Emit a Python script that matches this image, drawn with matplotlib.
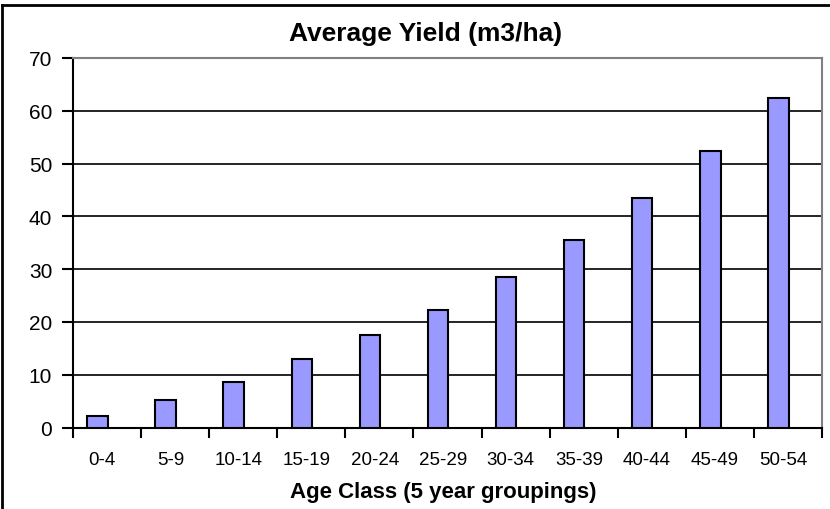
import numpy as np
import matplotlib.pyplot as plt
from matplotlib.lines import Line2D

# age classes and average yield per class
age_classes = ['0-4', '5-9', '10-14', '15-19', '20-24', '25-29',
               '30-34', '35-39', '40-44', '45-49', '50-54']
avg_yield = [2.1, 5.3, 8.7, 12.9, 17.5, 22.3, 28.5, 35.5, 43.5, 52.4, 62.5]
y_ticks = [0, 10, 20, 30, 40, 50, 60, 70]

plt.rcParams['font.family'] = ['Liberation Sans', 'DejaVu Sans']

fig = plt.figure(figsize=(8.3, 5.1), dpi=100)
ax = fig.add_axes([73 / 830, 1 - 428.5 / 510, 749 / 830, 369.5 / 510])

x = np.arange(len(age_classes))
# excel draws the bars a little left of the category centre
ax.bar(x - 0.14, avg_yield, width=0.3, color='#9999ff',
       edgecolor='black', linewidth=1.5, zorder=3)

ax.set_xlim(-0.5, len(age_classes) - 0.5)
ax.set_ylim(0, 70)
ax.set_yticks(y_ticks)
ax.tick_params(axis='y', length=8, width=1.5, labelsize=15, pad=7)

# ticks sit between categories, labels under the centres
ax.set_xticks(np.arange(len(age_classes) + 1) - 0.5)
ax.set_xticklabels([])
ax.set_xticks(x - 0.07, minor=True)
ax.set_xticklabels(age_classes, minor=True)
ax.tick_params(axis='x', which='major', length=7, width=1.5)
ax.tick_params(axis='x', which='minor', length=0, labelsize=13.5, pad=17)

for v in y_ticks[1:-1]:
    ax.axhline(v, color='black', linewidth=1.2, zorder=1)

for side in ['left', 'bottom']:
    ax.spines[side].set_linewidth(1.5)
for side in ['top', 'right']:
    ax.spines[side].set_color('#808080')
    ax.spines[side].set_linewidth(1.5)

fig.text(426 / 830, 1 - 34 / 510, 'Average Yield (m3/ha)', ha='center', va='center',
         fontsize=19, fontweight='bold')
fig.text(443 / 830, 1 - 493 / 510, 'Age Class (5 year groupings)', ha='center', va='center',
         fontsize=16, fontweight='bold')

# chart border, only top and left show in the picture
fig.add_artist(Line2D([2 / 830, 2 / 830], [0, 1 - 6 / 510], color='black', linewidth=2))
fig.add_artist(Line2D([2 / 830, 1], [1 - 6 / 510, 1 - 6 / 510], color='black', linewidth=2))

fig.savefig('out.png', dpi=100)
